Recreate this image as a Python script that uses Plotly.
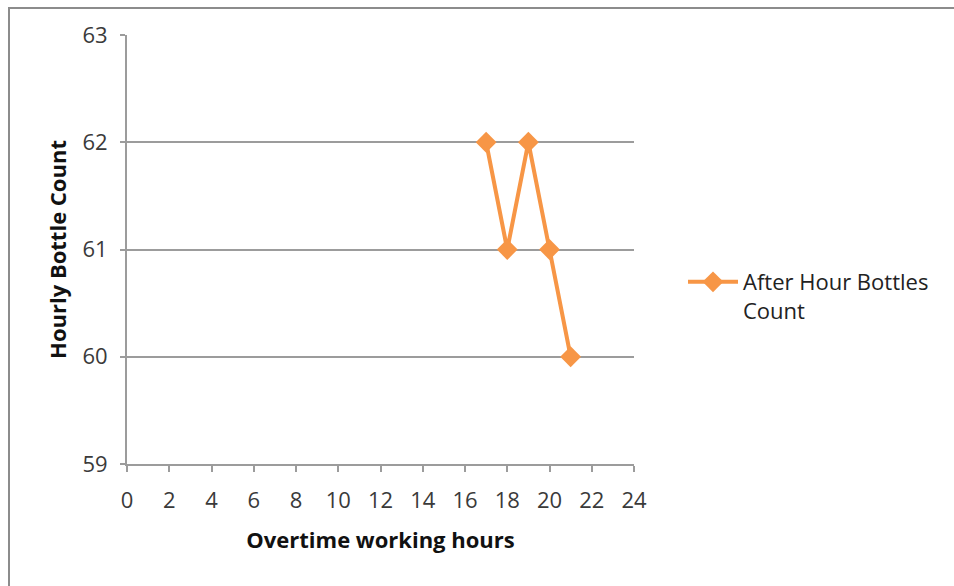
import plotly.graph_objects as go

# Overtime hours worked and the hourly bottle count recorded for each
overtime_hours = [17, 18, 19, 20, 21]
bottle_count = [62, 61, 62, 61, 60]
series_name = "After Hour Bottles<br>Count"

x_ticks = list(range(0, 25, 2))
y_ticks = [59, 60, 61, 62, 63]

ORANGE = "#F79646"
GRID = "#9C9C9C"
FONT = "Open Sans, Lato, sans-serif"

W, H = 954, 586
L, R, T, B = 127, 320, 35, 122
pw, ph = W - L - R, H - T - B


def px_x(px):
    return (px - L) / pw


def px_y(py):
    return (H - B - py) / ph


fig = go.Figure()
fig.add_trace(go.Scatter(
    x=overtime_hours, y=bottle_count, name=series_name,
    mode="lines+markers",
    line=dict(color=ORANGE, width=4),
    marker=dict(symbol="diamond", size=16, color=ORANGE),
))

fig.update_layout(
    width=W, height=H,
    margin=dict(l=L, r=R, t=T, b=B),
    paper_bgcolor="white", plot_bgcolor="white",
    font=dict(family=FONT, size=22, color="#3a3a3a"),
    showlegend=True,
    legend=dict(x=px_x(683), y=px_y(261), yanchor="top", xanchor="left",
                font=dict(size=22, color="#222"), bgcolor="rgba(0,0,0,0)",
                valign="top", itemwidth=50, tracegroupgap=0),
    xaxis=dict(
        range=[0, 24], tickvals=x_ticks, ticks="outside", ticklen=6,
        tickcolor=GRID, tickwidth=2, showgrid=False, zeroline=False,
        showline=True, linecolor=GRID, linewidth=2,
        tickfont=dict(size=22, color="#3a3a3a"), ticklabelstandoff=10,
        title=dict(text="<b>Overtime working hours</b>", standoff=19,
                   font=dict(size=22, color="#111")),
    ),
    yaxis=dict(
        range=[59, 63], tickvals=y_ticks, ticks="outside", ticklen=5,
        tickcolor=GRID, tickwidth=2, showgrid=True, gridcolor=GRID,
        gridwidth=2, zeroline=False, showline=True, linecolor=GRID,
        linewidth=2, tickfont=dict(size=22, color="#3a3a3a"),
        ticklabelstandoff=8,
        title=dict(text="<b>Hourly Bottle Count</b>", standoff=10,
                   font=dict(size=22, color="#111")),
    ),
    shapes=[dict(
        type="rect", xref="paper", yref="paper",
        x0=px_x(9), x1=px_x(W + 20), y0=px_y(H + 20), y1=px_y(8),
        line=dict(color="#8C8C8C", width=2), fillcolor="rgba(0,0,0,0)",
        layer="below",
    )],
)

fig.write_html("out.html")
